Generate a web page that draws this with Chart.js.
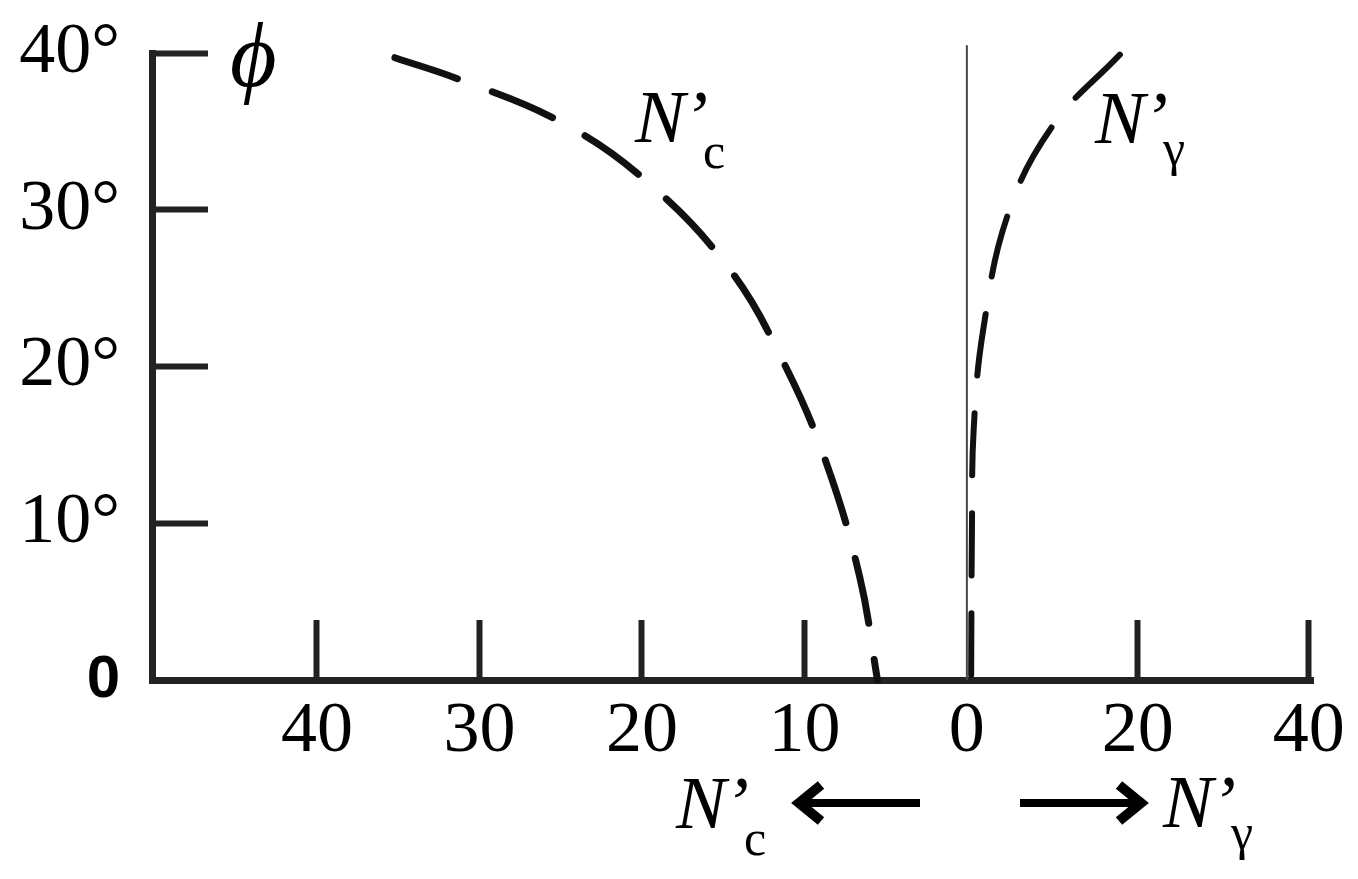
<!DOCTYPE html>
<html lang="en">
<head>
<meta charset="UTF-8">
<title>N'c and N'γ against φ</title>
<script src="https://cdn.jsdelivr.net/npm/chart.js"></script>
<style>
  html, body { margin: 0; padding: 0; background: #fff; }
  #chart { display: block; }
</style>
</head>
<body>
<canvas id="chart" width="1358" height="879"></canvas>
<script>
// values: friction angle phi (deg) and the two factors
const ncPhi  = [39.7, 38.3, 35.6, 31.8, 26.2, 20.3, 14.0, 6.6, 0];
const ncVals = [35.2, 31.2, 25.0, 19.7, 14.6, 11.3, 8.7, 6.6, 5.5];

const ngPhi  = [39.9, 35.4, 29.7, 22.3, 16.0, 10.0, 0];
const ngVals = [17.9, 10.1, 4.8, 1.9, 0.8, 0.6, 0.5];

const yTicks  = [0, 10, 20, 30, 40];
const yLabels = ['0', '10°', '20°', '30°', '40°'];

const ncTicks = [40, 30, 20, 10, 0];  // left half, N'c grows to the left
const ngTicks = [20, 40];             // right half, N'γ grows to the right

// the two halves use different scales: right half is squeezed
const ncMax = 50.15;
const ngMax = 40.5;
const ngScale = 0.526;
const phiTop = 40.5;   // the thin zero line pokes a little above 40°

const toLeft  = n => -n;
const toRight = n => n * ngScale;

const ncData = ncVals.map((n, i) => ({ x: toLeft(n), y: ncPhi[i] }));
const ngData = ngVals.map((n, i) => ({ x: toRight(n), y: ngPhi[i] }));
const zeroLine = [{ x: 0, y: 0 }, { x: 0, y: phiTop }];

const xTickPos = ncTicks.map(toLeft).concat(ngTicks.map(toRight));
const xTickLabels = ncTicks.concat(ngTicks).map(String);

const serif = "'Liberation Serif', 'Times New Roman', 'DejaVu Serif', serif";
const ink = '#111';

function factor(c, x, y, sub, subDy) {
  c.font = 'italic 75px ' + serif;
  c.fillText('N', x, y);
  c.fillText('\u2019', x + 48, y);
  c.font = '50px ' + serif;
  c.fillText(sub, x + 68, y + subDy);
}

function arrow(c, x0, x1, y) {
  const dir = Math.sign(x1 - x0);
  c.strokeStyle = '#000';
  c.lineCap = 'butt';
  c.lineWidth = 8;
  c.beginPath();
  c.moveTo(x0, y);
  c.lineTo(x1 - dir * 6, y);
  c.stroke();
  c.lineWidth = 10;
  c.lineJoin = 'miter';
  c.beginPath();
  c.moveTo(x1 - dir * 28, y - 18);
  c.lineTo(x1 - dir * 6, y);
  c.lineTo(x1 - dir * 28, y + 18);
  c.stroke();
}

// labels and arrows around the plot
const annotations = {
  id: 'annotations',
  afterDraw(chart) {
    const c = chart.ctx;
    c.save();
    c.fillStyle = '#000';
    c.textAlign = 'left';
    c.textBaseline = 'alphabetic';
    c.font = 'italic 90px ' + serif;
    c.fillText('\u03D5', 230, 86);
    factor(c, 635, 142, 'c', 26);
    factor(c, 1095, 143, '\u03B3', 22);
    factor(c, 676, 828, 'c', 27);
    factor(c, 1163, 827, '\u03B3', 22);
    arrow(c, 920, 793, 803);
    arrow(c, 1020, 1147, 803);
    c.restore();
  }
};

new Chart(document.getElementById('chart'), {
  type: 'line',
  data: {
    datasets: [
      {
        data: zeroLine,
        borderColor: '#444',
        borderWidth: 2,
        pointRadius: 0,
        clip: false
      },
      {
        label: "N'c",
        data: ncData,
        borderColor: ink,
        borderWidth: 7,
        borderDash: [66, 37],
        borderCapStyle: 'round',
        tension: 0.4,
        pointRadius: 0,
        clip: false
      },
      {
        label: "N'γ",
        data: ngData,
        borderColor: ink,
        borderWidth: 6,
        borderDash: [62, 38],
        borderCapStyle: 'round',
        tension: 0.4,
        pointRadius: 0,
        clip: false
      }
    ]
  },
  options: {
    responsive: false,
    animation: false,
    layout: { padding: { left: 0, top: 53, right: 45, bottom: 0 } },
    plugins: { legend: { display: false }, tooltip: { enabled: false } },
    scales: {
      x: {
        type: 'linear',
        min: -ncMax,
        max: ngMax * ngScale,
        afterBuildTicks: s => { s.ticks = xTickPos.map(v => ({ value: v })); },
        afterFit: s => { s.height = 199; s.paddingLeft = 0; s.paddingRight = 0; },
        grid: {
          drawOnChartArea: false,
          drawTicks: true,
          tickLength: -60,
          tickWidth: 6,
          tickColor: ctx => (ctx.tick && ctx.tick.value === 0) ? 'rgba(0,0,0,0)' : '#222'
        },
        border: { display: true, width: 7, color: '#222' },
        ticks: {
          autoSkip: false,
          maxRotation: 0,
          minRotation: 0,
          padding: 69,
          color: '#000',
          font: { family: serif, size: 72 },
          callback: (v, i) => xTickLabels[i]
        }
      },
      y: {
        type: 'linear',
        min: 0,
        max: 40,
        afterBuildTicks: s => { s.ticks = yTicks.map(v => ({ value: v })); },
        afterFit: s => { s.width = 152; s.paddingTop = 0; s.paddingBottom = 0; },
        grid: {
          drawOnChartArea: false,
          drawTicks: true,
          tickLength: -56,
          tickWidth: 6,
          tickColor: ctx => (ctx.tick && ctx.tick.value === 0) ? 'rgba(0,0,0,0)' : '#222'
        },
        border: { display: true, width: 7, color: '#222' },
        ticks: {
          padding: 88,
          color: '#000',
          font: ctx => (ctx.tick && ctx.tick.value === 0)
            ? { family: "'Liberation Sans', Arial, sans-serif", size: 60, weight: 'bold' }
            : { family: serif, size: 72 },
          callback: (v, i) => yLabels[i]
        }
      }
    }
  },
  plugins: [annotations]
});
</script>
</body>
</html>
